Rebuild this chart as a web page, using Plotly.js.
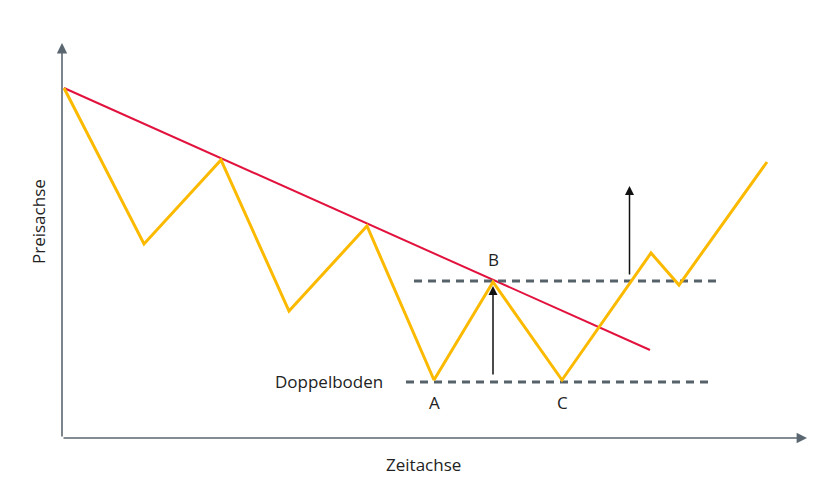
<!DOCTYPE html>
<html><head><meta charset="utf-8">
<script src="https://cdn.plot.ly/plotly-3.0.1.min.js"></script>
<style>html,body{margin:0;padding:0;background:#fff}</style>
</head><body><div id="c" style="width:840px;height:499px"></div>
<script>
// zigzag price path (time, price) in arbitrary schematic units
const time = [2, 82, 159, 227, 305, 372, 431, 500, 589, 617, 705];
const price = [350, 194, 278, 127, 212, 58, 156, 58, 185, 153, 276];
// descending trendline
const trendTime = [2, 588];
const trendPrice = [350, 88];
// resistance (neckline) and support (double bottom) levels
const resTime = [352, 656];
const resPrice = [157, 157];
const supTime = [344, 648];
const supPrice = [56, 56];
// measuring arrows: [time, fromPrice, toPrice]
const arrowTime = [431, 567.5];
const arrowFrom = [62, 162];
const arrowTo = [152, 252];
// labels
const pointLabels = ['A', 'B', 'C'];
const pointLabelTime = [372, 431, 500];
const pointLabelPrice = [36, 179, 36];
const axisEnds = {x: 745, y: 395};

const font = {family: 'Open Sans, DejaVu Sans, sans-serif', size: 17, color: '#222'};
const traces = [
  {x: trendTime, y: trendPrice, mode: 'lines', line: {color: '#E2123E', width: 2}, hoverinfo: 'skip'},
  {x: resTime, y: resPrice, mode: 'lines', line: {color: '#56626A', width: 3, dash: '8px,6px'}, hoverinfo: 'skip'},
  {x: supTime, y: supPrice, mode: 'lines', line: {color: '#56626A', width: 3, dash: '8px,6px'}, hoverinfo: 'skip'},
  {x: time, y: price, mode: 'lines', line: {color: '#FBBA00', width: 3}, hoverinfo: 'skip'}
];
const annotations = [];
// axes with arrowheads
annotations.push({x: axisEnds.x, y: 0, ax: 0, ay: 0, xref: 'x', yref: 'y', axref: 'x', ayref: 'y', text: '', showarrow: true, arrowhead: 2, arrowsize: 1.3, arrowwidth: 1.6, arrowcolor: '#5B6770', standoff: 0});
annotations.push({x: 0, y: axisEnds.y, ax: 0, ay: 0, xref: 'x', yref: 'y', axref: 'x', ayref: 'y', text: '', showarrow: true, arrowhead: 2, arrowsize: 1.3, arrowwidth: 1.6, arrowcolor: '#5B6770', standoff: 0});
for (let i = 0; i < arrowTime.length; i++) {
  annotations.push({x: arrowTime[i], y: arrowTo[i], ax: arrowTime[i], ay: arrowFrom[i], xref: 'x', yref: 'y', axref: 'x', ayref: 'y', text: '', showarrow: true, arrowhead: 2, arrowsize: 1.2, arrowwidth: 1.5, arrowcolor: '#111', standoff: 0});
}
for (let i = 0; i < pointLabels.length; i++) {
  annotations.push({x: pointLabelTime[i], y: pointLabelPrice[i], xref: 'x', yref: 'y', text: pointLabels[i], showarrow: false, font: font});
}
annotations.push({x: 267, y: 57, xref: 'x', yref: 'y', text: 'Doppelboden', showarrow: false, font: font});
annotations.push({x: 361, y: -26, xref: 'x', yref: 'y', text: 'Zeitachse', showarrow: false, font: font});
annotations.push({x: -24, y: 216, xref: 'x', yref: 'y', text: 'Preisachse', showarrow: false, textangle: -90, font: font});

const layout = {
  width: 840, height: 499,
  margin: {l: 0, r: 0, t: 0, b: 0},
  paper_bgcolor: '#fff', plot_bgcolor: '#fff',
  showlegend: false,
  xaxis: {range: [-62, 778], visible: false, fixedrange: true},
  yaxis: {range: [-61, 438], visible: false, fixedrange: true},
  annotations: annotations
};
Plotly.newPlot('c', traces, layout, {displayModeBar: false, staticPlot: true});
</script></body></html>
